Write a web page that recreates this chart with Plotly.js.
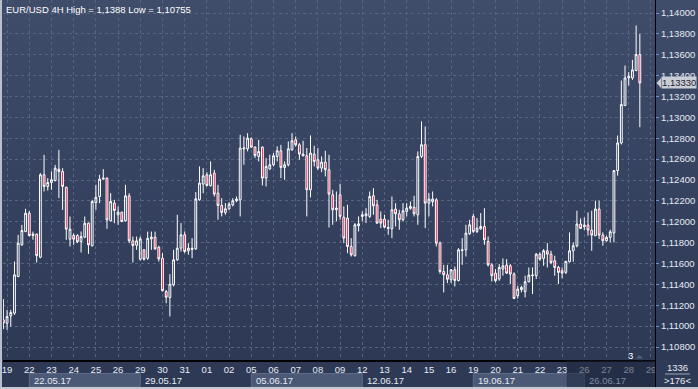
<!DOCTYPE html>
<html><head><meta charset="utf-8">
<script src="https://cdn.plot.ly/plotly-3.0.1.min.js"></script>
<style>
html,body{margin:0;padding:0;background:#c3c7cf;overflow:hidden;}
#chart{position:absolute;left:0;top:0;width:698px;height:389px;
 background:linear-gradient(to bottom,#3f4c6a 0px,#2d3955 360px,#2d3955 389px);}
.deco{position:absolute;pointer-events:none;}
</style></head>
<body>
<div id="chart"></div>
<div class="deco" style="left:0;top:0;width:2px;height:389px;background:#b9c0cc;"></div>
<div class="deco" style="left:0;top:387px;width:698px;height:2px;background:#c3c7cf;"></div>
<div class="deco" style="left:655px;top:360px;width:1px;height:27px;background:#000;"></div>
<script>
// ---- data: EUR/USD 4H candles (index 0 = 18 May 20:00, then 6 candles per trading day) ----
const opens = [1.1106,1.11028,1.11098,1.11124,1.11475,1.11779,1.11906,1.12082,1.11868,1.11881,
1.1166,1.1245,1.12338,1.12376,1.12395,1.12504,1.12481,1.12331,1.11833,1.11868,
1.11868,1.11811,1.11852,1.11986,1.1177,1.12184,1.12242,1.12408,1.12418,1.12009,
1.12178,1.12066,1.12092,1.12009,1.12248,1.11817,1.11775,1.11641,1.11731,1.1165,
1.11836,1.11852,1.11756,1.1165,1.11331,1.11274,1.11396,1.11635,1.11747,1.11875,
1.11721,1.11734,1.1174,1.12211,1.12361,1.1245,1.12345,1.12466,1.12274,1.12156,
1.12089,1.12124,1.12162,1.12201,1.1221,1.12697,1.12699,1.12795,1.12715,1.12626,
1.12715,1.12418,1.12505,1.12546,1.12626,1.1268,1.1252,1.12546,1.1269,1.12785,
1.12737,1.12648,1.12632,1.12306,1.12648,1.12594,1.12514,1.12571,1.12498,1.12258,
1.12115,1.12258,1.12044,1.12035,1.11763,1.11674,1.11962,1.12051,1.12057,1.12051,
1.12249,1.12162,1.12025,1.12025,1.11936,1.11932,1.12121,1.12076,1.12019,1.12099,
1.12128,1.1214,1.12067,1.12626,1.12738,1.12178,1.12194,1.1221,1.11795,1.11523,
1.11492,1.11444,1.1154,1.11437,1.11725,1.11731,1.11885,1.12051,1.11907,1.11932,
1.11955,1.11811,1.11587,1.11508,1.11451,1.11547,1.11585,1.11578,1.11499,1.11291,
1.11349,1.1133,1.11425,1.11483,1.11483,1.1169,1.11649,1.11722,1.1169,1.11626,
1.11562,1.11531,1.11515,1.11617,1.11722,1.1177,1.11978,1.11952,1.11968,1.1192,
1.11866,1.12122,1.11872,1.11818,1.1185,1.11893,1.1249,1.12755,1.13113,1.13378,
1.13378,1.13449,1.13602];
const highs = [1.1126,1.11156,1.11156,1.11619,1.11874,1.1197,1.12124,1.12104,1.11906,1.11887,
1.12466,1.12641,1.12418,1.12481,1.12545,1.12689,1.12513,1.12335,1.1205,1.1189,
1.11881,1.11906,1.1205,1.11993,1.1221,1.12354,1.1245,1.12504,1.12424,1.12274,
1.1221,1.12146,1.12095,1.12354,1.12274,1.11858,1.11858,1.11858,1.11737,1.11906,
1.11906,1.11906,1.1177,1.11699,1.11347,1.11498,1.11731,1.12067,1.11987,1.11907,
1.11795,1.11843,1.12284,1.1253,1.12514,1.12475,1.12578,1.12498,1.12354,1.12226,
1.12178,1.12188,1.12226,1.12242,1.12833,1.12817,1.12849,1.12808,1.12722,1.12785,
1.12722,1.1261,1.12642,1.12658,1.12722,1.12737,1.12578,1.12769,1.12849,1.12817,
1.12753,1.12776,1.12706,1.12827,1.12728,1.12706,1.12626,1.1268,1.12642,1.12306,
1.1229,1.12364,1.12147,1.12162,1.11843,1.11987,1.12051,1.12099,1.1213,1.1229,
1.12322,1.1221,1.12099,1.12067,1.12019,1.12242,1.12178,1.12115,1.12178,1.12178,
1.12194,1.12249,1.12674,1.12961,1.12913,1.12274,1.1229,1.12226,1.11811,1.11587,
1.11587,1.11546,1.11571,1.11747,1.11843,1.11971,1.12019,1.12076,1.12035,1.12083,
1.1213,1.11859,1.11603,1.11547,1.11594,1.11649,1.11642,1.11594,1.11515,1.11387,
1.11387,1.11483,1.11562,1.11562,1.117,1.11706,1.11738,1.11796,1.11722,1.11674,
1.11578,1.11562,1.11626,1.11898,1.11802,1.12106,1.12032,1.12042,1.1209,1.12106,
1.12202,1.12202,1.11898,1.11866,1.11924,1.1249,1.12826,1.13353,1.13497,1.13433,
1.13551,1.1388,1.138];
const lows = [1.1097,1.10964,1.10996,1.11108,1.11469,1.1177,1.119,1.11858,1.11827,1.11609,
1.1165,1.1229,1.12299,1.12306,1.12386,1.12226,1.12114,1.11827,1.11763,1.11779,
1.11795,1.11705,1.11842,1.11692,1.11763,1.12114,1.12178,1.12402,1.11932,1.12002,
1.11986,1.1197,1.11996,1.12002,1.11795,1.11609,1.11731,1.11628,1.11628,1.11635,
1.11731,1.11731,1.11619,1.11331,1.11219,1.11092,1.1138,1.11626,1.11715,1.11699,
1.11683,1.11651,1.11731,1.12201,1.12274,1.12338,1.12338,1.12242,1.1202,1.12051,
1.12067,1.12114,1.12146,1.12188,1.12051,1.12546,1.12674,1.12706,1.1261,1.12578,
1.12348,1.12338,1.12498,1.1253,1.12578,1.12418,1.12402,1.1253,1.1268,1.12722,
1.12594,1.12626,1.12051,1.12233,1.1253,1.12498,1.12475,1.12434,1.11945,1.11971,
1.12003,1.12019,1.11795,1.11699,1.11667,1.11667,1.11907,1.12003,1.11987,1.12035,
1.12067,1.1198,1.11939,1.11939,1.11875,1.11843,1.11955,1.11923,1.12003,1.12051,
1.12115,1.12051,1.11971,1.1261,1.11939,1.12051,1.12147,1.11763,1.11501,1.11322,
1.11412,1.11412,1.1138,1.11428,1.11587,1.11667,1.11875,1.11891,1.11891,1.11923,
1.11779,1.11571,1.11428,1.11419,1.11435,1.11483,1.11499,1.11403,1.11259,1.11265,
1.11323,1.11275,1.11419,1.11307,1.11451,1.11626,1.11578,1.11562,1.11594,1.11483,
1.11403,1.11457,1.11499,1.1161,1.11617,1.11754,1.1193,1.1192,1.11866,1.11722,
1.11866,1.11834,1.1177,1.11809,1.11802,1.11803,1.12442,1.1274,1.13113,1.13305,
1.13359,1.13442,1.12906];
const closes = [1.1103,1.11092,1.1113,1.11491,1.11795,1.11916,1.12082,1.11868,1.11881,1.11676,
1.1245,1.12338,1.12376,1.12402,1.12513,1.12481,1.12338,1.11929,1.11929,1.11833,
1.11807,1.11858,1.11986,1.11779,1.12194,1.12235,1.12408,1.12418,1.12018,1.12194,
1.12108,1.12092,1.12002,1.12248,1.11817,1.11772,1.11817,1.11836,1.11641,1.11842,
1.11852,1.1174,1.11644,1.1134,1.11277,1.11402,1.11635,1.11747,1.11875,1.11715,
1.11747,1.11747,1.1222,1.1237,1.1244,1.12348,1.1245,1.12265,1.12156,1.12089,
1.12124,1.12169,1.12201,1.12217,1.12706,1.12706,1.12801,1.12715,1.12635,1.12674,
1.12418,1.1253,1.12546,1.12632,1.1268,1.1252,1.12546,1.12699,1.12776,1.12737,
1.12648,1.12632,1.12306,1.12658,1.12578,1.12514,1.12571,1.12498,1.12265,1.12114,
1.12131,1.12051,1.11843,1.11763,1.11683,1.11971,1.1198,1.12067,1.12076,1.12242,
1.12153,1.11987,1.11987,1.11948,1.11945,1.12115,1.12076,1.12019,1.12105,1.12131,
1.12147,1.12076,1.12626,1.12738,1.12178,1.12217,1.12217,1.11795,1.11523,1.11492,
1.1145,1.1154,1.11437,1.11731,1.11731,1.11891,1.11971,1.11907,1.11939,1.11955,
1.11827,1.11587,1.11483,1.11435,1.11562,1.11578,1.11508,1.11499,1.11265,1.11355,
1.11371,1.11425,1.11489,1.11489,1.1169,1.11642,1.11722,1.1169,1.1161,1.11562,
1.11515,1.11508,1.1162,1.11722,1.1177,1.11978,1.11936,1.11968,1.1192,1.11872,
1.12122,1.11872,1.11818,1.1185,1.11904,1.1249,1.12755,1.13123,1.13378,1.13391,
1.13455,1.13602,1.1333];
const dayLabels = ['19','22','23','24','25','26','29','30','31','01','02','05','06','07','08','09',
 '12','13','14','15','16','19','20','21','22','23','26','27','28','29'];
const weekLabels = ['22.05.17','29.05.17','05.06.17','12.06.17','19.06.17','26.06.17'];
const priceTicks = [1.108,1.110,1.112,1.114,1.116,1.118,1.120,1.122,1.124,1.126,1.128,1.130,1.132,1.134,1.136,1.138,1.140];
const titleText = 'EUR/USD 4H High = 1,1388 Low = 1,10755';
const barsInfo = ['1336','>176<'];

// ---- derived ----
const PER_DAY = 6;
const xIdx = opens.map((_, i) => i);
const dayTickVals = dayLabels.map((_, k) => 1 + PER_DAY * k);
const weekStart = weekLabels.map((_, w) => dayTickVals[1 + 5 * w]);
const lastClose = closes[closes.length - 1];
const fmt = v => v.toFixed(5).replace('.', ',');

// pixel helpers for decorations around the plot (plot spans x 3..655, y 0..360)
const PL = 3, PW = 652, PH = 360;
const px = x => (x - PL) / PW;          // page x -> paper x
const py = y => (PH - y) / PH;          // page y -> paper y
const PXPERUNIT = PH / (1.141245 - 1.106755);

const FONT = 'Liberation Sans, Arial, sans-serif';
const trace = {
  type: 'candlestick', x: xIdx, open: opens, high: highs, low: lows, close: closes,
  increasing: {line: {color: '#ffffff', width: 1}, fillcolor: 'rgba(0,0,0,0)'},
  decreasing: {line: {color: '#ffffff', width: 1}, fillcolor: '#e3123f'},
  whiskerwidth: 0, hoverinfo: 'skip', showlegend: false
};

const shapes = [];
const annotations = [];
// week boxes in the bottom strip
weekLabels.forEach((w, k) => {
  const x0 = weekStart[k], x1 = x0 + 5 * PER_DAY;
  if (k % 2 === 0 && k < weekLabels.length - 1) {
    shapes.push({type: 'rect', xref: 'x', yref: 'paper', x0: x0, x1: x1, y0: py(387), y1: py(373.5),
      fillcolor: '#4b5876', line: {color: '#5e6b88', width: 1}, layer: 'below'});
  }
  annotations.push({xref: 'x', yref: 'paper', x: x0, y: py(380.5), xanchor: 'left', yanchor: 'middle',
    xshift: 3, text: w, showarrow: false,
    font: {family: FONT, size: 9.5, color: k === weekLabels.length - 1 ? '#7f8ba3' : '#e6ebf4'}});
});
// darker scroll zone at the right end of the bottom strip
shapes.push({type: 'rect', xref: 'paper', yref: 'paper', x0: px(566.7), x1: 1, y0: py(387), y1: py(360.6),
  fillcolor: 'rgba(30,38,58,0.55)', line: {width: 0}, layer: 'above'});
// corner box covering clipped label
shapes.push({type: 'rect', xref: 'paper', yref: 'paper', x0: 1.0, x1: px(698), y0: py(387), y1: py(360.6),
  fillcolor: '#2f3a56', line: {width: 0}, layer: 'above'});
annotations.push({xref: 'paper', yref: 'paper', x: px(677), y: py(367.5), xanchor: 'center', yanchor: 'middle',
  text: barsInfo[0], showarrow: false, font: {family: FONT, size: 9.5, color: '#e6ebf4'}});
annotations.push({xref: 'paper', yref: 'paper', x: px(677), y: py(380.5), xanchor: 'center', yanchor: 'middle',
  text: barsInfo[1], showarrow: false, font: {family: FONT, size: 9.5, color: '#e6ebf4'}});
shapes.push({type: 'line', xref: 'paper', yref: 'paper', x0: px(665), x1: px(690), y0: py(374), y1: py(374),
  line: {color: '#9aa6bc', width: 1}, layer: 'above'});
// title
annotations.push({xref: 'paper', yref: 'paper', x: px(4), y: 1, xanchor: 'left', yanchor: 'top', yshift: -2,
  text: titleText, showarrow: false, font: {family: FONT, size: 9.5, color: '#ffffff'}});
// last price tag with left-pointing tip
const tagH = 5 / PXPERUNIT;
shapes.push({type: 'path', xref: 'paper', yref: 'y',
  path: `M ${px(656.5)},${lastClose} L ${px(661)},${lastClose + tagH} L ${px(661)},${lastClose - tagH} Z`,
  fillcolor: '#c9cdd5', line: {width: 0}, layer: 'above'});
annotations.push({xref: 'paper', yref: 'y', x: px(661), y: lastClose, xanchor: 'left', yanchor: 'middle',
  text: fmt(lastClose), showarrow: false, bgcolor: '#c9cdd5', borderpad: 0,
  font: {family: FONT, size: 9.5, color: '#1e2430'}});
// "3" marker and small dim triangle
annotations.push({xref: 'paper', yref: 'paper', x: px(630.5), y: py(355.5), xanchor: 'center', yanchor: 'middle',
  text: '3', showarrow: false, font: {family: FONT, size: 9.5, color: '#ffffff'}});
shapes.push({type: 'path', xref: 'paper', yref: 'paper',
  path: `M ${px(636)},${py(358.5)} L ${px(643)},${py(358.5)} L ${px(639.5)},${py(355)} Z`,
  fillcolor: '#55627e', line: {width: 0}, layer: 'above'});

const layout = {
  width: 698, height: 389,
  margin: {l: PL, r: 698 - PL - PW, t: 0, b: 389 - PH, pad: 0},
  paper_bgcolor: 'rgba(0,0,0,0)', plot_bgcolor: 'rgba(0,0,0,0)',
  separators: ', ',
  showlegend: false,
  xaxis: {
    type: 'linear', range: [-0.1, 176.1], fixedrange: true,
    rangeslider: {visible: false},
    tickvals: dayTickVals, ticktext: dayLabels, ticks: '', ticklen: 0,
    tickfont: {family: FONT, size: 9.5, color: '#e6ebf4'},
    showgrid: true, gridcolor: '#56647f', griddash: '3px,3px', gridwidth: 1,
    showline: true, linecolor: '#000000', linewidth: 2, zeroline: false, mirror: false
  },
  yaxis: {
    side: 'right', range: [1.106755, 1.141245], fixedrange: true,
    tickvals: priceTicks, tickformat: '.5f',
    ticks: 'outside', ticklen: 3, tickcolor: '#6f8fc8',
    tickfont: {family: FONT, size: 9.5, color: '#e6ebf4'},
    showgrid: true, gridcolor: '#56647f', griddash: '3px,3px', gridwidth: 1,
    showline: true, linecolor: '#000000', linewidth: 1, zeroline: false
  },
  boxgap: 0.3, boxgroupgap: 0.3,
  shapes: shapes, annotations: annotations
};
Plotly.newPlot('chart', [trace], layout, {staticPlot: true, displayModeBar: false});
</script>
</body></html>
